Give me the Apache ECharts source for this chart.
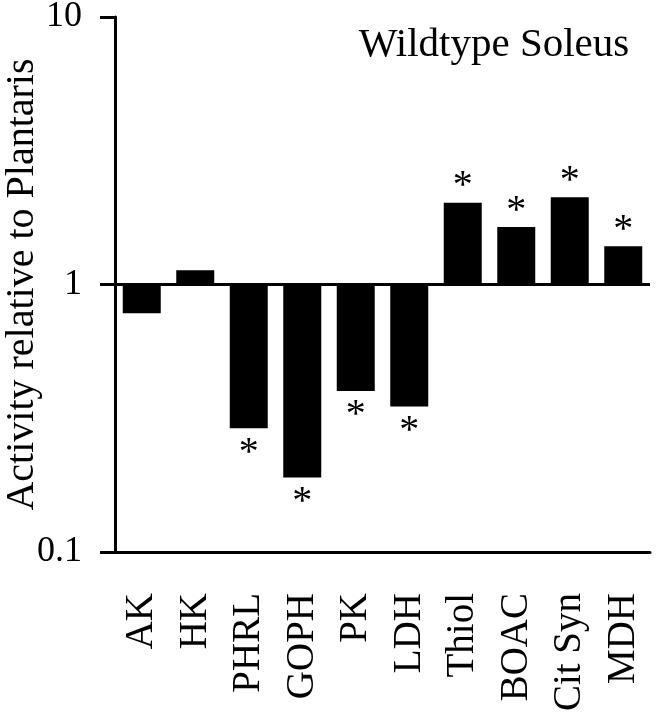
<!DOCTYPE html>
<html>
<head>
<meta charset="utf-8">
<script src="https://cdn.jsdelivr.net/npm/echarts@6/dist/echarts.min.js"></script>
<style>html,body{margin:0;padding:0;background:#fff}#c{width:659px;height:719px}</style>
</head>
<body>
<div id="c"></div>
<script>
const categories = ['AK','HK','PHRL','GOPH','PK','LDH','Thiol','BOAC','Cit Syn','MDH'];
const activity = [0.78, 1.13, 0.29, 0.19, 0.40, 0.35, 2.02, 1.64, 2.12, 1.39];
const significant = [false, false, true, true, true, true, true, true, true, true];
const yTicks = [0.1, 1, 10];

const FONT = 'Liberation Serif';
const chart = echarts.init(document.getElementById('c'));
const data = activity.map((v, i) => ({
  value: v,
  label: {
    show: significant[i],
    position: v >= 1 ? 'top' : 'bottom',
    distance: v >= 1 ? -4 : 5
  }
}));
chart.setOption({
  animation: false,
  title: {
    text: 'Wildtype Soleus',
    left: 489, top: 20, textAlign: 'center',
    textStyle: {fontFamily: FONT, fontSize: 41, fontWeight: 'normal', color: '#000'}
  },
  grid: {left: 115, right: 9, top: 17, bottom: 167, containLabel: false, outerBoundsMode: 'none'},
  xAxis: {
    type: 'category',
    data: categories,
    axisLine: {lineStyle: {color: '#000', width: 3}},
    axisTick: {alignWithLabel: true, length: 15, lineStyle: {color: '#000', width: 3}},
    axisLabel: {rotate: 90, margin: 41, fontFamily: FONT, fontSize: 39, color: '#000'}
  },
  yAxis: {
    type: 'log', logBase: 10, min: yTicks[0], max: yTicks[2],
    name: 'Activity relative to Plantaris',
    nameLocation: 'middle', nameGap: 73, nameMoveOverlap: false,
    nameTextStyle: {fontFamily: FONT, fontSize: 40, color: '#000'},
    axisLine: {show: true, lineStyle: {color: '#000', width: 3}},
    axisTick: {show: true, length: 15, lineStyle: {color: '#000', width: 3}},
    minorTick: {show: false},
    splitLine: {show: false},
    axisLabel: {margin: 33, fontFamily: FONT, fontSize: 36, color: '#000'}
  },
  series: [{
    type: 'bar',
    data: data,
    barWidth: 38,
    itemStyle: {color: '#000'},
    label: {formatter: '*', fontFamily: FONT, fontSize: 40, color: '#000'},
    markLine: {
      silent: true, symbol: 'none', label: {show: false},
      lineStyle: {color: '#000', width: 3, type: 'solid'},
      data: [{yAxis: 1}]
    }
  }]
});
</script>
</body>
</html>
